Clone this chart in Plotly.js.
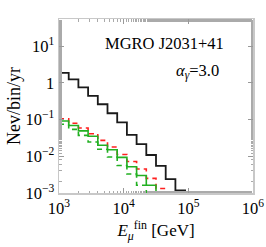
<!DOCTYPE html>
<html>
<head>
<meta charset="utf-8">
<script src="https://cdn.plot.ly/plotly-3.0.1.min.js"></script>
<style>html,body{margin:0;padding:0;background:#fff;}#chart{width:266px;height:247px;}</style>
</head>
<body>
<div id="chart"></div>
<script>
// Bin edges in GeV (0.15 decade bins)
var binEdges = [1000, 1413, 1995, 2818, 3981, 5623, 7943, 11220, 15850, 22390, 31620, 44670, 63100, 89130, 125900];
// Nev/bin/yr per bin
var totalEvents = [1.85, 1.24, 0.75, 0.44, 0.26, 0.148, 0.084, 0.038, 0.0215, 0.0108, 0.0055, 0.0024, 0.00117, 0.0005];
var redDashed   = [0.105, 0.079, 0.059, 0.041, 0.027, 0.0178, 0.0112, 0.0072, 0.0045, 0.0025, 0.00132, 0.0006, 0.0003, 0.0002];
var greenSolid  = [0.091, 0.069, 0.049, 0.035, 0.020, 0.0151, 0.0093, 0.0052, 0.0030, 0.00162, 0.0006, 0.0003, 0.0002, 0.0001];
var greenDashed = [0.074, 0.054, 0.037, 0.0245, 0.0155, 0.0095, 0.0056, 0.0033, 0.00162, 0.0008, 0.0004, 0.0002, 0.0001, 0.0001];
var xTickVals = [1000, 10000, 100000, 1000000];
var xTickText = ["10<sup>3</sup>", "10<sup>4</sup>", "10<sup>5</sup>", "10<sup>6</sup>"];
var yTickVals = [0.001, 0.01, 0.1, 1, 10];
var yTickText = ["10<sup>\u22123</sup>", "10<sup>\u22122</sup>", "10<sup>\u22121</sup>", "1", "10<sup>1</sup>"];

function stepY(v){ return v.concat([v[v.length-1]]); }

function hist(vals, color, dash, width){
  return {x: binEdges, y: stepY(vals), type:'scatter', mode:'lines',
    line:{shape:'hv', color:color, dash:dash, width:width}, hoverinfo:'skip', showlegend:false};
}

var traces = [
  hist(greenDashed, '#22b022', '5px,4px', 1.6),
  hist(redDashed, '#ff2020', '5px,4px', 1.6),
  hist(greenSolid, '#22b022', 'solid', 1.6),
  hist(totalEvents, '#1a1a1a', 'solid', 1.8)
];

var font = {family:'Liberation Serif, serif', color:'#000'};
var layout = {
  width:266, height:247,
  margin:{l:59, r:13, t:19, b:54},
  paper_bgcolor:'#fff', plot_bgcolor:'#fff',
  showlegend:false,
  font:font,
  xaxis:{type:'log', range:[3,6], tickvals:xTickVals, ticktext:xTickText,
    ticks:'inside', ticklen:5, tickcolor:'#999', showline:true, linecolor:'#c8c8c8', linewidth:1.5,
    mirror:'ticks', showgrid:false, zeroline:false, ticklabeloverflow:'allow',
    tickfont:Object.assign({size:16.5}, font),
    minor:{ticks:'inside', ticklen:2.5, tickcolor:'#aaa', showgrid:false},
    title:{text:'<i>E</i><sub><i>\u03bc</i></sub><sup>fin</sup> [GeV]', font:Object.assign({size:17}, font), standoff:3}},
  yaxis:{type:'log', range:[-3,1.735], tickvals:yTickVals, ticktext:yTickText,
    ticks:'inside', ticklen:5, tickcolor:'#999', showline:true, linecolor:'#c8c8c8', linewidth:1.5,
    mirror:'ticks', showgrid:false, zeroline:false, ticklabeloverflow:'allow',
    tickfont:Object.assign({size:16.5}, font),
    minor:{ticks:'inside', ticklen:2.5, tickcolor:'#aaa', showgrid:false},
    title:{text:'Nev/bin/yr', font:Object.assign({size:18}, font), standoff:0}},
  annotations:[
    {xref:'paper', yref:'paper', x:0.86, y:0.862, xanchor:'right', yanchor:'middle', showarrow:false,
     text:'MGRO J2031+41', font:Object.assign({size:16.5}, font)},
    {xref:'paper', yref:'paper', x:0.835, y:0.70, xanchor:'right', yanchor:'middle', showarrow:false,
     text:'<i>\u03b1</i><sub><i>\u03b3</i></sub>=3.0', font:Object.assign({size:16.5}, font)}
  ]
};
Plotly.newPlot('chart', traces, layout, {displayModeBar:false, staticPlot:true});
</script>
</body>
</html>
